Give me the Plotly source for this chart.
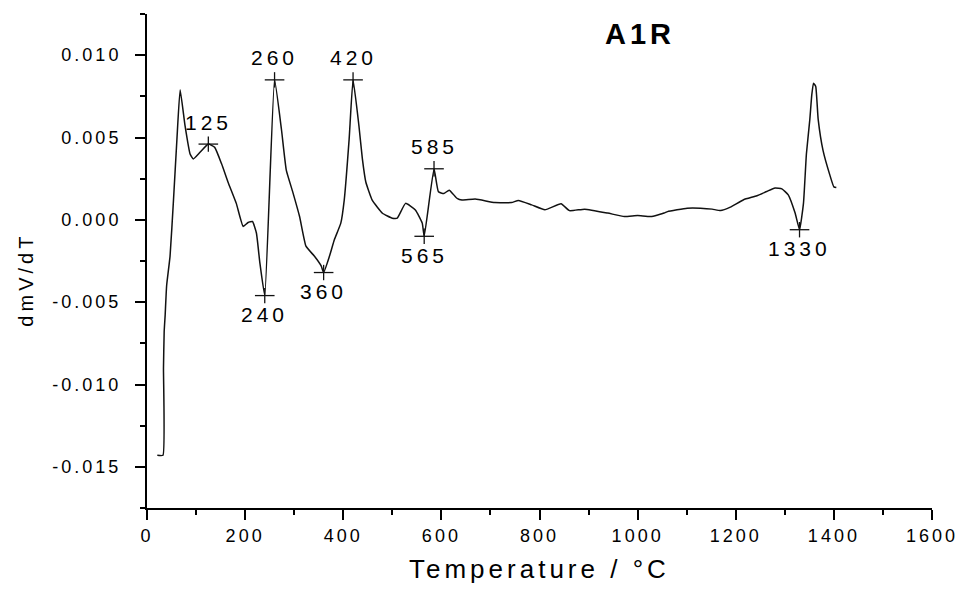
import plotly.graph_objects as go

# ---- data ----
temperature = [21, 32.5, 33.6, 35, 37, 40, 47, 54, 61, 67.5, 77.6, 87.8, 94.4, 108, 125,
               138, 152, 165, 182, 196, 206, 215, 223, 230, 240, 260, 274, 284, 297, 311,
               324, 341, 355, 360, 372, 382, 395, 402, 412, 420, 432, 439, 446, 459, 480,
               500, 510, 527, 547, 561, 565, 585, 594, 605, 616, 632, 642, 669, 709, 743,
               757, 784, 811, 844, 861, 892, 939, 973, 1000, 1027, 1054, 1061, 1101, 1128,
               1152, 1169, 1189, 1216, 1243, 1263, 1280, 1294, 1307, 1321, 1330, 1338, 1344,
               1351, 1355, 1358.5, 1363, 1368, 1378, 1392, 1400, 1405]
dmv_dt = [-0.0143, -0.0143, -0.0090, -0.0068, -0.0058, -0.0040, -0.0022, 0.0012, 0.0049,
          0.0079, 0.0057, 0.0040, 0.0037, 0.0041, 0.0046, 0.0044, 0.0034, 0.0023, 0.0010,
          -0.0004, -0.00016, -0.0001, -0.0008, -0.0026, -0.0046, 0.0085, 0.0055, 0.0030,
          0.0017, 0.0002, -0.0016, -0.0022, -0.0028, -0.0032, -0.0022, -0.0012, -0.0002,
          0.0012, 0.0049, 0.0085, 0.0057, 0.0037, 0.0023, 0.0012, 0.0004, 0.0001, 0.0001,
          0.0010, 0.0006, -0.0002, -0.0010, 0.0031, 0.0017, 0.0016, 0.0018, 0.0013, 0.0012,
          0.00126, 0.00105, 0.00105, 0.00118, 0.00091, 0.00061, 0.00097, 0.00056, 0.00065,
          0.00041, 0.0002, 0.00026, 0.0002, 0.00041, 0.0005, 0.00071, 0.00071, 0.00065,
          0.00056, 0.00077, 0.00122, 0.00146, 0.00172, 0.00193, 0.00188, 0.00152, 0.00041,
          -0.0006, 0.0010, 0.0040, 0.0061, 0.0076, 0.0083, 0.0081, 0.0061, 0.0042, 0.0027,
          0.0020, 0.00196]

peak_T = [125, 240, 260, 360, 420, 565, 585, 1330]
peak_y = [0.0046, -0.0046, 0.0085, -0.0032, 0.0085, -0.0010, 0.0031, -0.0006]
peak_labels = ["125", "240", "260", "360", "420", "565", "585", "1330"]
peak_side = ["above", "below", "above", "below", "above", "below", "above", "below"]

x_tick_vals = [0, 200, 400, 600, 800, 1000, 1200, 1400, 1600]
x_tick_text = ["0", "200", "400", "600", "800", "1000", "1200", "1400", "1600"]
y_tick_vals = [-0.015, -0.010, -0.005, 0.000, 0.005, 0.010]
y_tick_text = ["-0.015", "-0.010", "-0.005", "0.000", "0.005", "0.010"]

chart_title = "A1R"
x_title = "Temperature / °C"
y_title = "dmV/dT"

FONT = "Liberation Sans, Arial, sans-serif"
INK = "#000000"

fig = go.Figure()
fig.add_trace(go.Scatter(x=temperature, y=dmv_dt, mode="lines",
                         line=dict(color="#111111", width=1.5, shape="spline", smoothing=0.4),
                         hoverinfo="skip"))
fig.add_trace(go.Scatter(x=peak_T, y=peak_y, mode="markers",
                         marker=dict(symbol="line-ew", size=14, line=dict(color="#111111", width=1.3))))
fig.add_trace(go.Scatter(x=peak_T, y=peak_y, mode="markers",
                         marker=dict(symbol="line-ns", size=11, line=dict(color="#111111", width=1.3))))

for t, v, lab, side in zip(peak_T, peak_y, peak_labels, peak_side):
    fig.add_annotation(x=t, y=v, text=lab, showarrow=False, xanchor="center", yanchor="middle",
                       yshift=22 if side == "above" else -19,
                       font=dict(family=FONT, size=21, color=INK))

fig.add_annotation(x=0.6274, y=0.9595, xref="paper", yref="paper", text="<b>" + chart_title + "</b>",
                   showarrow=False, xanchor="center", yanchor="middle",
                   font=dict(family=FONT, size=29, color=INK))
fig.add_annotation(x=0.5, y=-0.1235, xref="paper", yref="paper", text=x_title,
                   showarrow=False, xanchor="center", yanchor="middle",
                   font=dict(family=FONT, size=26, color=INK))
fig.add_annotation(x=-0.1546, y=0.4615, xref="paper", yref="paper", text=y_title, textangle=-90,
                   showarrow=False, xanchor="center", yanchor="middle",
                   font=dict(family=FONT, size=20, color=INK))

axis_common = dict(showgrid=False, zeroline=False, showline=True, linecolor="black", linewidth=2,
                   ticks="outside", ticklen=10, tickwidth=2, tickcolor="black",
                   tickfont=dict(family=FONT, size=18, color=INK))
fig.update_xaxes(range=[0, 1600], tickvals=x_tick_vals, ticktext=x_tick_text,
                 minor=dict(dtick=100, tick0=0, ticks="outside", ticklen=5, tickwidth=2, tickcolor="black"),
                 **axis_common)
fig.update_yaxes(range=[-0.0175, 0.0125], tickvals=y_tick_vals, ticktext=y_tick_text,
                 minor=dict(dtick=0.0025, tick0=0, ticks="outside", ticklen=5, tickwidth=2, tickcolor="black"),
                 ticklabelstandoff=10, **axis_common)

fig.update_layout(width=964, height=591, margin=dict(l=147, r=28, t=14, b=83),
                  paper_bgcolor="white", plot_bgcolor="white", showlegend=False)

js = """
var s = document.createElement('style');
s.textContent = '.xtick text, .ytick text { letter-spacing: 3px; } .annotation-text { letter-spacing: 4px; }';
document.head.appendChild(s);
"""
fig.write_html("out.html", post_script=js)
